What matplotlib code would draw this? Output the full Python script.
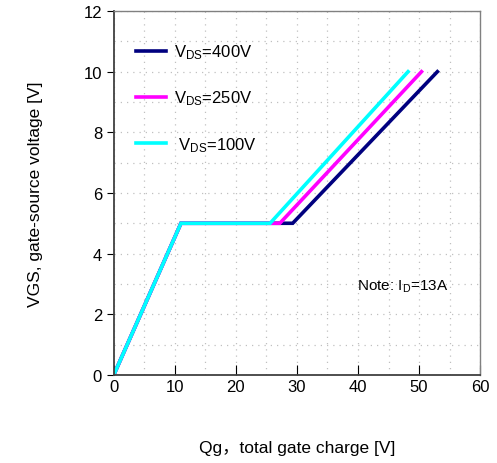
"""
Gate charge characteristic: VGS vs Qg for three VDS values
"""

import numpy as np
import matplotlib.pyplot as plt

plt.rcParams['font.family'] = ['Liberation Sans', 'Noto Sans CJK SC', 'DejaVu Sans']

# curve breakpoints (Qg in nC, VGS in V)
qg_400 = [0, 11, 29.3, 53.0]
vgs_400 = [0, 5, 5, 10]
qg_250 = [0, 11, 27.2, 50.4]
vgs_250 = [0, 5, 5, 10]
qg_100 = [0, 11, 25.6, 48.2]
vgs_100 = [0, 5, 5, 10]

labels = [r'V$\mathregular{_{DS}}$=400V', r'V$\mathregular{_{DS}}$=250V', r' V$\mathregular{_{DS}}$=100V']
colors = ['#00007f', '#ff00ff', '#00ffff']

fig = plt.figure(figsize=(4.97, 4.64), dpi=100)
ax = fig.add_axes([0.229, 0.19, 0.737, 0.784])

for qg, vgs, lab, col in zip([qg_400, qg_250, qg_100], [vgs_400, vgs_250, vgs_100], labels, colors):
    ax.plot(qg, vgs, color=col, lw=2.6, label=lab, solid_joinstyle='miter')

ax.set_xlim(0, 60)
ax.set_ylim(0, 12)
ax.set_xticks(np.arange(0, 61, 10))
ax.set_yticks(np.arange(0, 13, 2))
ax.set_xticks(np.arange(0, 61, 5), minor=True)
ax.set_yticks(np.arange(0, 13, 1), minor=True)
ax.grid(True, which='both', color='#c0c0c0', linestyle=(0, (1, 4)), lw=0.9)
ax.tick_params(axis='x', which='major', direction='in', length=7, labelsize=12, pad=3)
ax.tick_params(axis='y', which='major', direction='out', length=5, labelsize=12)
ax.tick_params(which='minor', length=0)

for s in ['left', 'bottom']:
    ax.spines[s].set_color('#404040')
    ax.spines[s].set_linewidth(1.3)
for s in ['top', 'right']:
    ax.spines[s].set_color('#808080')
    ax.spines[s].set_linewidth(1.0)

ax.set_xlabel('Qg，total gate charge [V]', fontsize=12.5, labelpad=33)
ax.set_ylabel('VGS, gate-source voltage [V]', fontsize=12.5, labelpad=29)

ax.text(39.8, 2.93, r'Note: I$\mathregular{_D}$=13A', fontsize=11, va='center', ha='left')

leg = ax.legend(loc='upper left', bbox_to_anchor=(0.02, 0.955), frameon=False,
                fontsize=12, handlelength=1.8, handletextpad=0.5, labelspacing=1.65)

fig.savefig('out.png', dpi=100)
